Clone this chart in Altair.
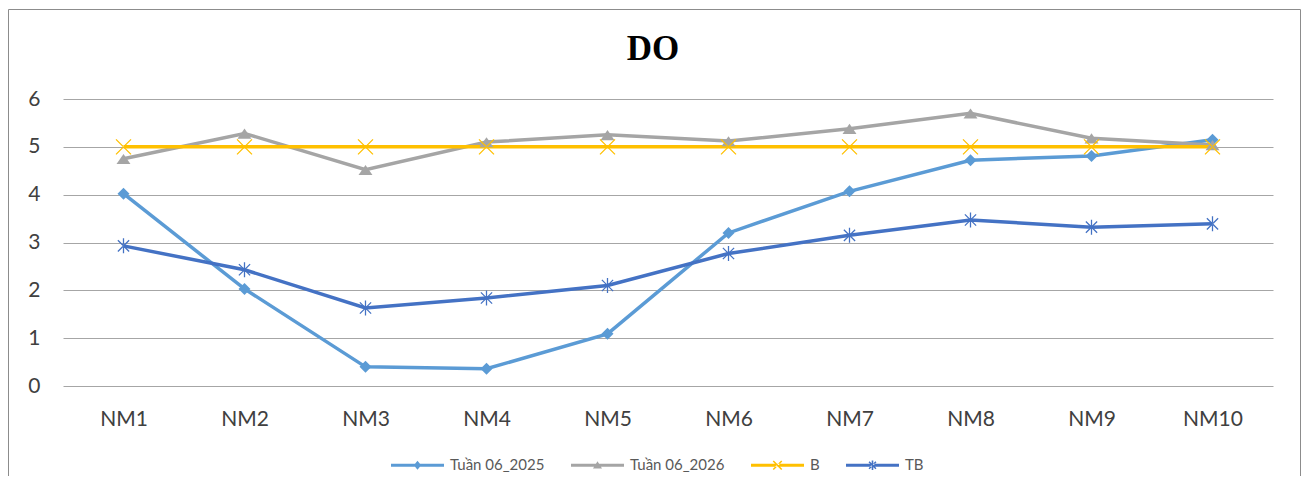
import altair as alt
import pandas as pd

# ---------------- data ----------------
categories = ["NM1", "NM2", "NM3", "NM4", "NM5", "NM6", "NM7", "NM8", "NM9", "NM10"]
series_names = ["Tuần 06_2025", "Tuần 06_2026", "B", "TB"]
tuan06_2025 = [4.02, 2.03, 0.40, 0.36, 1.09, 3.20, 4.07, 4.72, 4.81, 5.15]
tuan06_2026 = [4.75, 5.28, 4.52, 5.10, 5.25, 5.12, 5.38, 5.70, 5.18, 5.04]
b_values = [5, 5, 5, 5, 5, 5, 5, 5, 5, 5]
tb_values = [2.93, 2.43, 1.63, 1.84, 2.10, 2.77, 3.15, 3.47, 3.32, 3.39]
y_ticks = [0, 1, 2, 3, 4, 5, 6]
title_text = "DO"

line_colors = ["#5B9BD5", "#A5A5A5", "#FFC000", "#4472C4"]
marker_colors = ["#5B9BD5", "#A5A5A5", "#FFC000", "#4472C4"]

rows = []
for name, vals in zip(series_names, [tuan06_2025, tuan06_2026, b_values, tb_values]):
    for c, v in zip(categories, vals):
        rows.append({"cat": c, "series": name, "value": v})
df = pd.DataFrame(rows)


# ---------------- marker shapes (svg paths in unit coords) ----------------
def fmt(v):
    return f"{v:.4f}"


def xcross(a, d):
    p1 = f"M{fmt(a+d)},{fmt(a-d)}L{fmt(a-d)},{fmt(a+d)}L{fmt(-a-d)},{fmt(-a+d)}L{fmt(-a+d)},{fmt(-a-d)}Z"
    p2 = f"M{fmt(a+d)},{fmt(-a+d)}L{fmt(a-d)},{fmt(-a-d)}L{fmt(-a-d)},{fmt(a-d)}L{fmt(-a+d)},{fmt(a+d)}Z"
    return p1 + p2


def rect(hx, hy):
    return f"M{fmt(-hx)},{fmt(-hy)}L{fmt(hx)},{fmt(-hy)}L{fmt(hx)},{fmt(hy)}L{fmt(-hx)},{fmt(hy)}Z"


def diamond(hx, hy):
    return f"M0,{fmt(-hy)}L{fmt(hx)},0L0,{fmt(hy)}L{fmt(-hx)},0Z"


def triangle(hx, top, bottom):
    return f"M0,{fmt(-top)}L{fmt(hx)},{fmt(bottom)}L{fmt(-hx)},{fmt(bottom)}Z"


chart_shapes = [
    diamond(0.8, 0.8),
    triangle(0.93, 0.65, 0.7),
    xcross(1.0, 0.06),
    xcross(0.75, 0.06) + rect(0.085, 1.0),
]
legend_bar = rect(1.0, 0.055)
legend_shapes = [
    legend_bar + diamond(0.14, 0.17),
    legend_bar + triangle(0.17, 0.15, 0.12),
    legend_bar + xcross(0.16, 0.02),
    legend_bar + xcross(0.13, 0.02) + rect(0.03, 0.18),
]

FONT = "Lato"
W, H = 1210, 287
PAD = {"left": 55, "top": 91, "right": 28, "bottom": 90}

x_enc = alt.X(
    "cat:N",
    sort=categories,
    scale=alt.Scale(type="point", padding=0.5),
    axis=alt.Axis(
        title=None, labelAngle=0, domain=False, ticks=False, grid=False,
        labelFontSize=21, labelFont=FONT, labelColor="#404040", labelPadding=22,
    ),
)
y_enc = alt.Y(
    "value:Q",
    scale=alt.Scale(domain=[0, 6], nice=False, zero=True),
    axis=alt.Axis(
        title=None, values=y_ticks, domain=False, ticks=False, grid=True,
        gridColor="#A6A6A6", gridWidth=1, labelFontSize=21, labelFont=FONT,
        labelColor="#404040", labelPadding=23,
    ),
)

base = alt.Chart(df)

lines = base.mark_line(strokeWidth=3.5).encode(
    x=x_enc, y=y_enc,
    color=alt.Color("series:N", scale=alt.Scale(domain=series_names, range=line_colors), legend=None),
)

points = base.mark_point(filled=True, opacity=1, size=225).encode(
    x=x_enc, y=y_enc,
    color=alt.Color("series:N", scale=alt.Scale(domain=series_names, range=marker_colors), legend=None),
    shape=alt.Shape("series:N", scale=alt.Scale(domain=series_names, range=chart_shapes), legend=None),
)

legend_props = dict(
    title=None, orient="none", direction="horizontal", legendX=328, legendY=339.5,
    symbolSize=2809, symbolStrokeWidth=0, labelFont=FONT, labelFontSize=15,
    labelColor="#595959", labelOffset=6, columnPadding=26, padding=0,
)
legend_layer = base.transform_filter("false").mark_point(filled=True, opacity=1, size=2809).encode(
    x=x_enc, y=y_enc,
    color=alt.Color(
        "series:N",
        scale=alt.Scale(domain=series_names, range=line_colors),
        legend=alt.Legend(**legend_props),
    ),
    shape=alt.Shape(
        "series:N",
        scale=alt.Scale(domain=series_names, range=legend_shapes),
        legend=alt.Legend(**legend_props),
    ),
)

one = alt.Chart(pd.DataFrame({"k": [0]}))
frame_color = "#8C8C8C"
frame_left = one.mark_rule(color=frame_color, strokeWidth=1).encode(
    x=alt.value(-54.5), y=alt.value(-89.5), y2=alt.value(380)
)
frame_right = one.mark_rule(color=frame_color, strokeWidth=1).encode(
    x=alt.value(1237.5), y=alt.value(-89.5), y2=alt.value(380)
)
frame_top = one.mark_rule(color=frame_color, strokeWidth=1).encode(
    x=alt.value(-54.5), x2=alt.value(1237.5), y=alt.value(-89.5)
)
title_mark = one.mark_text(
    font="Liberation Serif", fontSize=35, fontWeight="bold", color="#000000",
    align="center", baseline="alphabetic",
).encode(x=alt.value(590), y=alt.value(-39), text=alt.value(title_text))

chart = (
    alt.layer(frame_left, frame_right, frame_top, title_mark, lines, points, legend_layer)
    .resolve_scale(color="independent", shape="independent")
    .properties(width=W, height=H, padding=PAD, autosize="none", background="white")
    .configure_view(stroke=None)
)

chart.save("out.html", embed_options={"renderer": "svg", "actions": False})
